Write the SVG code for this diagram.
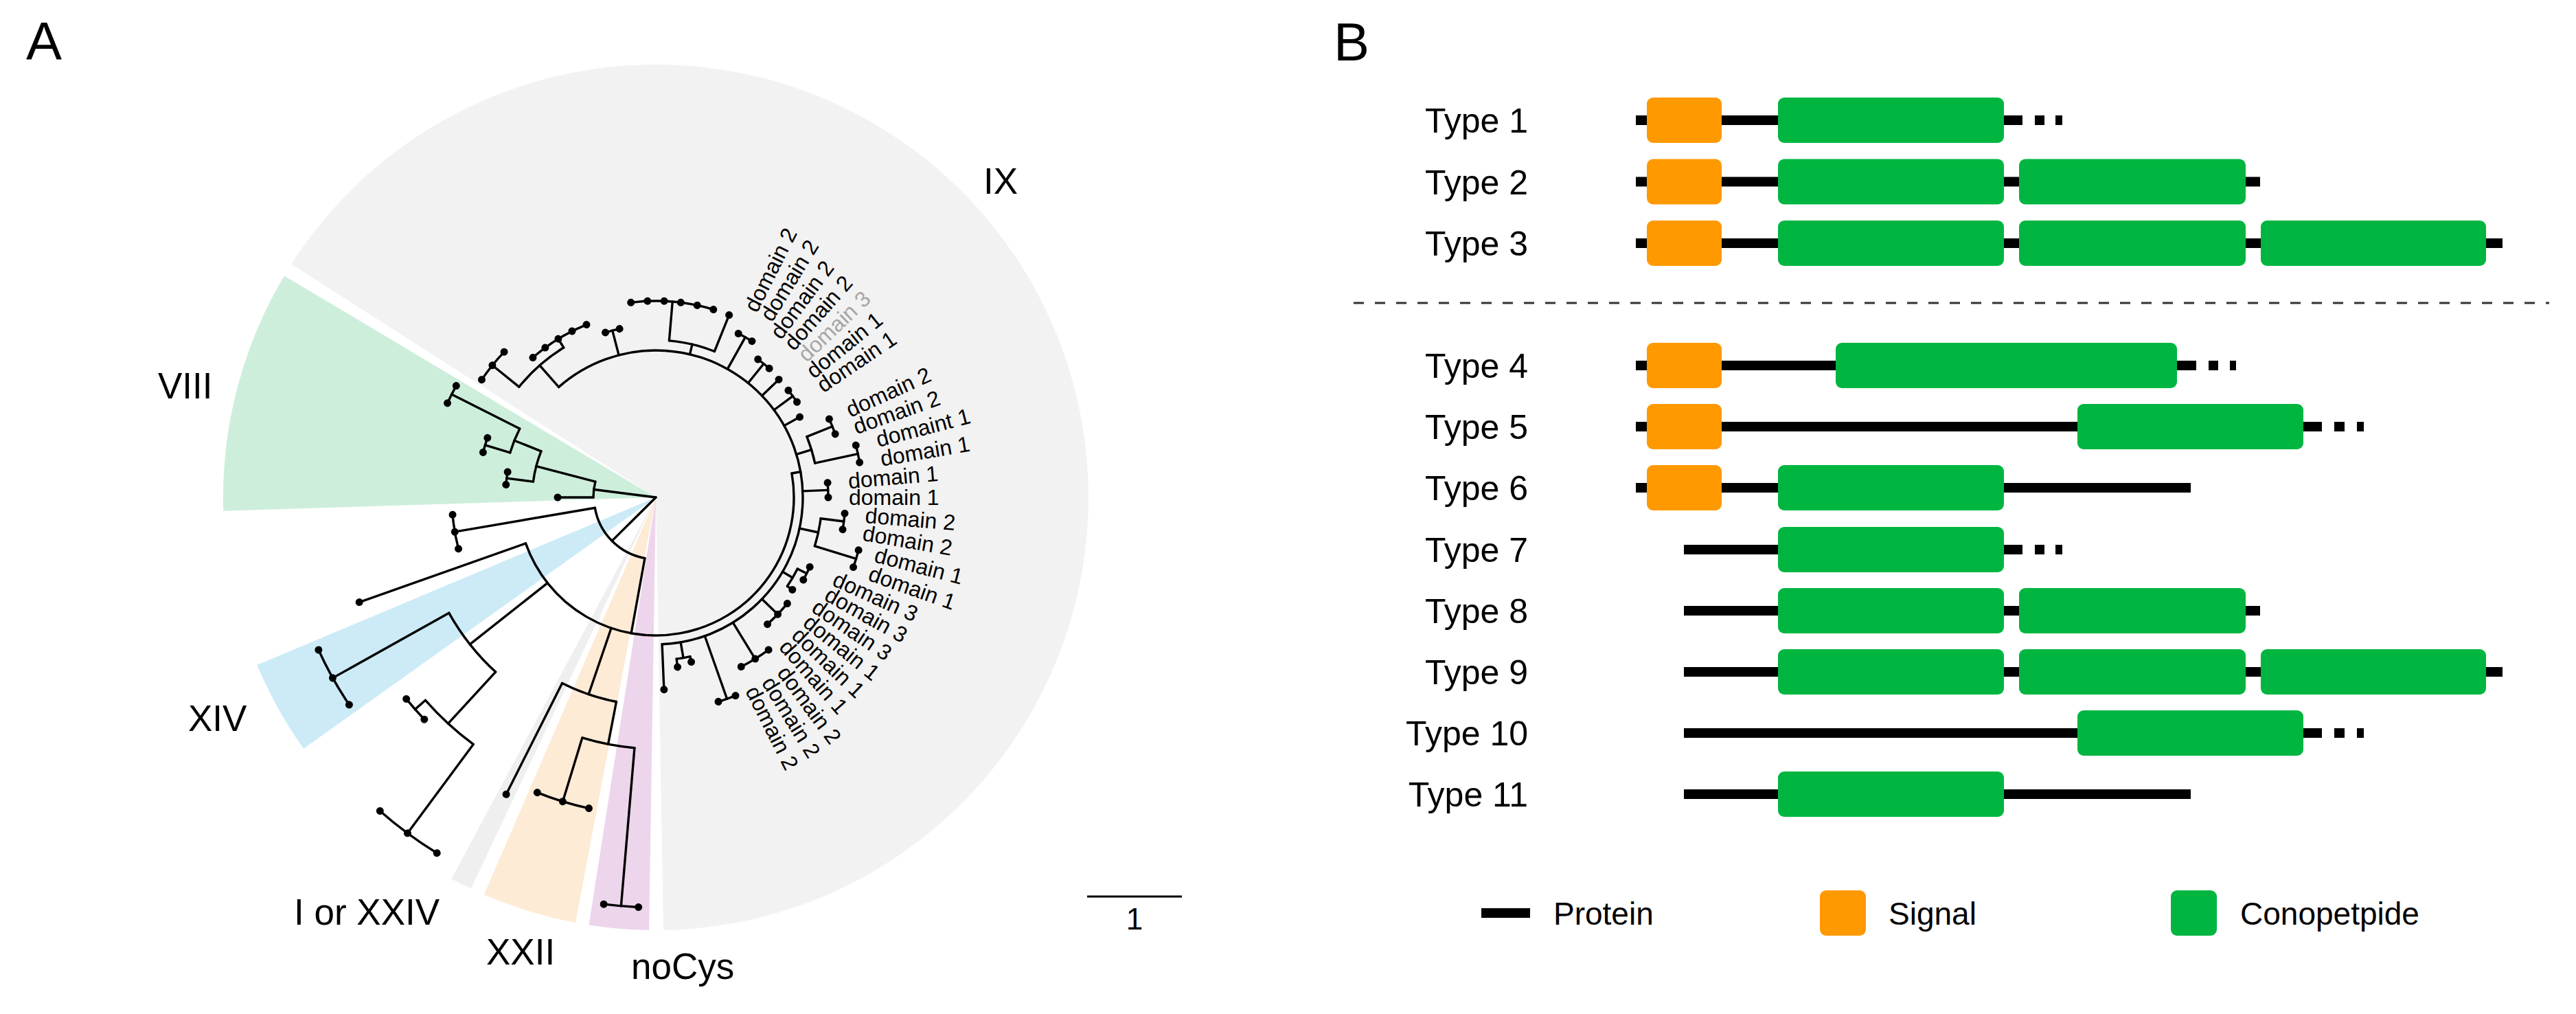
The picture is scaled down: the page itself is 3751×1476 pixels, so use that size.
<svg xmlns="http://www.w3.org/2000/svg" width="3751" height="1476" viewBox="0 0 3751 1476">
<style>
text{font-family:"Liberation Sans",Arial,Helvetica,sans-serif;fill:#000}
.pl{font-size:78px}
.gl{font-size:53px}
.tl{font-size:32px}
.ty{font-size:50px;text-anchor:end}
.lg{font-size:46px}
.br{stroke:#000;stroke-width:3.4;fill:none;stroke-linecap:round}
.ar{stroke:#000;stroke-width:3.4;fill:none;stroke-linecap:round}
.dt{fill:#000}
.pr{fill:#000}
.sg{fill:#ff9900}
.cp{fill:#00b640}
</style>
<rect width="3751" height="1476" fill="#fff"/>

<g id="panelA">
<text class="pl" x="38" y="87">A</text>
<g id="sectors">
<path d="M955,724 L424.2,384.6 A630,630 0 1 1 966,1353.9 Z" fill="#f2f2f2"/>
<path d="M955,724 L325.3,743.8 A630,630 0 0 1 413.9,401.4 Z" fill="#cdeedb"/>
<path d="M955,724 L442.1,1089.8 A630,630 0 0 1 374.2,968.1 Z" fill="#ccebf7"/>
<path d="M955,724 L685.8,1293.6 A630,630 0 0 1 657.3,1279.2 Z" fill="#efefef"/>
<path d="M955,724 L838,1343 A630,630 0 0 1 704.8,1302.2 Z" fill="#fdebd6"/>
<path d="M955,724 L945.1,1353.9 A630,630 0 0 1 857.5,1346.4 Z" fill="#edd5ec"/>
</g>
<g id="group-labels">
<text class="gl" x="1432" y="282">IX</text>
<text class="gl" x="230" y="580">VIII</text>
<text class="gl" x="274" y="1064">XIV</text>
<text class="gl" x="428" y="1346">I or XXIV</text>
<text class="gl" x="708" y="1404">XXII</text>
<text class="gl" x="919" y="1425">noCys</text>
</g>
<g id="tree" transform="translate(955,724)">
<g id="branches">
<line class="br" x1="0" x2="91" transform="rotate(187.297)"/>
<circle class="ar" r="91" pathLength="360" stroke-dasharray="14.595 720" transform="rotate(180)"/>
<line class="br" x1="91" x2="143" transform="rotate(180)"/>
<line class="br" x1="91" x2="180" transform="rotate(194.595)"/>
<circle class="ar" r="180" pathLength="360" stroke-dasharray="14.595 720" transform="rotate(187.297)"/>
<line class="br" x1="180" x2="219" transform="rotate(187.297)"/>
<circle class="ar" r="219" pathLength="360" stroke-dasharray="4.865 720" transform="rotate(184.865)"/>
<line class="br" x1="180" x2="222" transform="rotate(201.892)"/>
<circle class="ar" r="222" pathLength="360" stroke-dasharray="9.73 720" transform="rotate(197.027)"/>
<line class="br" x1="222" x2="260" transform="rotate(197.027)"/>
<circle class="ar" r="260" pathLength="360" stroke-dasharray="4.864 720" transform="rotate(194.595)"/>
<line class="br" x1="222" x2="333" transform="rotate(206.757)"/>
<circle class="ar" r="333" pathLength="360" stroke-dasharray="4.865 720" transform="rotate(204.324)"/>

<line class="br" x1="0" x2="90" transform="rotate(135.27)"/>
<circle class="ar" r="90" pathLength="360" stroke-dasharray="70 720" transform="rotate(100.27)"/>
<line class="br" x1="90" x2="297" transform="rotate(170.27)"/>
<circle class="ar" r="297" pathLength="360" stroke-dasharray="9.73 720" transform="rotate(165.405)"/>
<line class="br" x1="90" x2="201" transform="rotate(100.27)"/>
<circle class="ar" r="201" pathLength="360" stroke-dasharray="170.561 720" transform="rotate(349.98)"/>
<line class="br" x1="201" x2="458" transform="rotate(160.541)"/>
<line class="br" x1="201" x2="345" transform="rotate(141.69)"/>
<circle class="ar" r="345" pathLength="360" stroke-dasharray="18.243 720" transform="rotate(132.568)"/>
<line class="br" x1="345" x2="539" transform="rotate(150.811)"/>
<circle class="ar" r="539" pathLength="360" stroke-dasharray="9.73 720" transform="rotate(145.946)"/>
<line class="br" x1="345" x2="447" transform="rotate(132.568)"/>
<circle class="ar" r="447" pathLength="360" stroke-dasharray="12.163 720" transform="rotate(126.486)"/>
<line class="br" x1="447" x2="467" transform="rotate(138.649)"/>
<circle class="ar" r="467" pathLength="360" stroke-dasharray="4.865 720" transform="rotate(136.216)"/>
<line class="br" x1="447" x2="608" transform="rotate(126.486)"/>
<circle class="ar" r="608" pathLength="360" stroke-dasharray="9.729 720" transform="rotate(121.622)"/>
<line class="br" x1="201" x2="303" transform="rotate(108.851)"/>
<circle class="ar" r="303" pathLength="360" stroke-dasharray="15.811 720" transform="rotate(100.946)"/>
<line class="br" x1="303" x2="484" transform="rotate(116.757)"/>
<line class="br" x1="303" x2="366" transform="rotate(100.946)"/>
<circle class="ar" r="366" pathLength="360" stroke-dasharray="12.162 720" transform="rotate(94.865)"/>
<line class="br" x1="366" x2="597" transform="rotate(94.865)"/>
<circle class="ar" r="597" pathLength="360" stroke-dasharray="4.865 720" transform="rotate(92.432)"/>
<line class="br" x1="366" x2="463" transform="rotate(107.027)"/>
<circle class="ar" r="463" pathLength="360" stroke-dasharray="9.73 720" transform="rotate(102.162)"/>

<line class="br" x1="201" x2="214" transform="rotate(349.984)"/>
<circle class="ar" r="214" pathLength="360" stroke-dasharray="218.919 720" transform="rotate(228.649)"/>
<line class="br" x1="214" x2="256" transform="rotate(228.649)"/>
<circle class="ar" r="256" pathLength="360" stroke-dasharray="19.459 720" transform="rotate(218.919)"/>
<line class="br" x1="256" x2="306" transform="rotate(218.919)"/>
<circle class="ar" r="306" pathLength="360" stroke-dasharray="9.73 720" transform="rotate(214.054)"/>
<line class="br" x1="256" x2="271" transform="rotate(238.378)"/>
<circle class="ar" r="271" pathLength="360" stroke-dasharray="19.459 720" transform="rotate(228.649)"/>
<line class="br" x1="214" x2="251" transform="rotate(255.405)"/>
<circle class="ar" r="251" pathLength="360" stroke-dasharray="4.865 720" transform="rotate(252.973)"/>
<line class="br" x1="214" x2="229" transform="rotate(283.378)"/>
<circle class="ar" r="229" pathLength="360" stroke-dasharray="17.027 720" transform="rotate(274.865)"/>
<line class="br" x1="229" x2="286" transform="rotate(274.865)"/>
<circle class="ar" r="286" pathLength="360" stroke-dasharray="24.324 720" transform="rotate(262.703)"/>
<line class="br" x1="229" x2="286" transform="rotate(291.892)"/>
<line class="br" x1="214" x2="267" transform="rotate(299.189)"/>
<circle class="ar" r="267" pathLength="360" stroke-dasharray="4.865 720" transform="rotate(296.757)"/>
<line class="br" x1="214" x2="250" transform="rotate(308.919)"/>
<circle class="ar" r="250" pathLength="360" stroke-dasharray="4.865 720" transform="rotate(306.486)"/>
<line class="br" x1="214" x2="248" transform="rotate(316.216)"/>
<line class="br" x1="214" x2="248" transform="rotate(323.514)"/>
<circle class="ar" r="248" pathLength="360" stroke-dasharray="4.865 720" transform="rotate(321.081)"/>
<line class="br" x1="214" x2="240" transform="rotate(330.811)"/>
<line class="br" x1="214" x2="237" transform="rotate(342.973)"/>
<circle class="ar" r="237" pathLength="360" stroke-dasharray="9.73 720" transform="rotate(338.108)"/>
<line class="br" x1="237" x2="277" transform="rotate(338.108)"/>
<circle class="ar" r="277" pathLength="360" stroke-dasharray="4.865 720" transform="rotate(335.676)"/>
<line class="br" x1="237" x2="301" transform="rotate(347.838)"/>
<circle class="ar" r="301" pathLength="360" stroke-dasharray="4.865 720" transform="rotate(345.405)"/>
<line class="br" x1="214" x2="251" transform="rotate(357.568)"/>
<circle class="ar" r="251" pathLength="360" stroke-dasharray="4.865 720" transform="rotate(355.135)"/>
<line class="br" x1="214" x2="242" transform="rotate(372.162)"/>
<circle class="ar" r="242" pathLength="360" stroke-dasharray="9.73 720" transform="rotate(367.297)"/>
<line class="br" x1="242" x2="276" transform="rotate(367.297)"/>
<circle class="ar" r="276" pathLength="360" stroke-dasharray="4.865 720" transform="rotate(364.865)"/>
<line class="br" x1="242" x2="305" transform="rotate(377.027)"/>
<circle class="ar" r="305" pathLength="360" stroke-dasharray="4.864 720" transform="rotate(374.595)"/>
<line class="br" x1="214" x2="231" transform="rotate(390.405)"/>
<circle class="ar" r="231" pathLength="360" stroke-dasharray="7.297 720" transform="rotate(386.757)"/>
<line class="br" x1="231" x2="246" transform="rotate(386.757)"/>
<circle class="ar" r="246" pathLength="360" stroke-dasharray="4.865 720" transform="rotate(384.324)"/>
<line class="br" x1="231" x2="240" transform="rotate(394.054)"/>
<line class="br" x1="214" x2="246" transform="rotate(403.784)"/>
<circle class="ar" r="246" pathLength="360" stroke-dasharray="9.73 720" transform="rotate(398.919)"/>
<line class="br" x1="214" x2="276" transform="rotate(418.378)"/>
<circle class="ar" r="276" pathLength="360" stroke-dasharray="9.729 720" transform="rotate(413.514)"/>
<line class="br" x1="214" x2="311" transform="rotate(430.541)"/>
<circle class="ar" r="311" pathLength="360" stroke-dasharray="4.865 720" transform="rotate(428.108)"/>
<line class="br" x1="214" x2="237" transform="rotate(440.27)"/>
<circle class="ar" r="237" pathLength="360" stroke-dasharray="4.865 720" transform="rotate(437.838)"/>
<line class="br" x1="237" x2="245" transform="rotate(437.838)"/>
<line class="br" x1="237" x2="249" transform="rotate(442.703)"/>
<line class="br" x1="214" x2="280" transform="rotate(447.568)"/>
</g>
<g id="tips">
<circle class="dt" cx="143" r="5.5" transform="rotate(180)"/>
<circle class="dt" cx="219" r="5.5" transform="rotate(184.865)"/>
<circle class="dt" cx="219" r="5.5" transform="rotate(189.730)"/>
<circle class="dt" cx="260" r="5.5" transform="rotate(194.595)"/>
<circle class="dt" cx="260" r="5.5" transform="rotate(199.459)"/>
<circle class="dt" cx="333" r="5.5" transform="rotate(204.324)"/>
<circle class="dt" cx="333" r="5.5" transform="rotate(209.189)"/>
<circle class="dt" cx="306" r="5.5" transform="rotate(214.054)"/>
<circle class="dt" cx="306" r="5.5" transform="rotate(218.919)"/>
<circle class="dt" cx="306" r="5.5" transform="rotate(223.784)"/>
<circle class="dt" cx="271" r="5.5" transform="rotate(228.649)"/>
<circle class="dt" cx="271" r="5.5" transform="rotate(233.514)"/>
<circle class="dt" cx="271" r="5.5" transform="rotate(238.378)"/>
<circle class="dt" cx="271" r="5.5" transform="rotate(243.243)"/>
<circle class="dt" cx="271" r="5.5" transform="rotate(248.108)"/>
<circle class="dt" cx="251" r="5.5" transform="rotate(252.973)"/>
<circle class="dt" cx="251" r="5.5" transform="rotate(257.838)"/>
<circle class="dt" cx="286" r="5.5" transform="rotate(262.703)"/>
<circle class="dt" cx="286" r="5.5" transform="rotate(267.568)"/>
<circle class="dt" cx="286" r="5.5" transform="rotate(272.432)"/>
<circle class="dt" cx="286" r="5.5" transform="rotate(277.297)"/>
<circle class="dt" cx="286" r="5.5" transform="rotate(282.162)"/>
<circle class="dt" cx="286" r="5.5" transform="rotate(287.027)"/>
<circle class="dt" cx="286" r="5.5" transform="rotate(291.892)"/>
<circle class="dt" cx="267" r="5.5" transform="rotate(296.757)"/>
<circle class="dt" cx="267" r="5.5" transform="rotate(301.622)"/>
<circle class="dt" cx="250" r="5.5" transform="rotate(306.486)"/>
<circle class="dt" cx="250" r="5.5" transform="rotate(311.351)"/>
<circle class="dt" cx="248" r="5.5" transform="rotate(316.216)"/>
<circle class="dt" cx="248" r="5.5" transform="rotate(321.081)"/>
<circle class="dt" cx="248" r="5.5" transform="rotate(325.946)"/>
<circle class="dt" cx="240" r="5.5" transform="rotate(330.811)"/>
<circle class="dt" cx="277" r="5.5" transform="rotate(335.676)"/>
<circle class="dt" cx="277" r="5.5" transform="rotate(340.541)"/>
<circle class="dt" cx="301" r="5.5" transform="rotate(345.405)"/>
<circle class="dt" cx="301" r="5.5" transform="rotate(350.270)"/>
<circle class="dt" cx="251" r="5.5" transform="rotate(355.135)"/>
<circle class="dt" cx="251" r="5.5" transform="rotate(360)"/>
<circle class="dt" cx="276" r="5.5" transform="rotate(364.865)"/>
<circle class="dt" cx="276" r="5.5" transform="rotate(369.730)"/>
<circle class="dt" cx="305" r="5.5" transform="rotate(374.595)"/>
<circle class="dt" cx="305" r="5.5" transform="rotate(379.459)"/>
<circle class="dt" cx="246" r="5.5" transform="rotate(384.324)"/>
<circle class="dt" cx="246" r="5.5" transform="rotate(389.189)"/>
<circle class="dt" cx="240" r="5.5" transform="rotate(394.054)"/>
<circle class="dt" cx="246" r="5.5" transform="rotate(398.919)"/>
<circle class="dt" cx="246" r="5.5" transform="rotate(403.784)"/>
<circle class="dt" cx="246" r="5.5" transform="rotate(408.649)"/>
<circle class="dt" cx="276" r="5.5" transform="rotate(413.514)"/>
<circle class="dt" cx="276" r="5.5" transform="rotate(418.378)"/>
<circle class="dt" cx="276" r="5.5" transform="rotate(423.243)"/>
<circle class="dt" cx="311" r="5.5" transform="rotate(428.108)"/>
<circle class="dt" cx="311" r="5.5" transform="rotate(432.973)"/>
<circle class="dt" cx="245" r="5.5" transform="rotate(437.838)"/>
<circle class="dt" cx="249" r="5.5" transform="rotate(442.703)"/>
<circle class="dt" cx="280" r="5.5" transform="rotate(447.568)"/>
<circle class="dt" cx="597" r="5.5" transform="rotate(92.432)"/>
<circle class="dt" cx="597" r="5.5" transform="rotate(97.297)"/>
<circle class="dt" cx="463" r="5.5" transform="rotate(102.162)"/>
<circle class="dt" cx="463" r="5.5" transform="rotate(107.027)"/>
<circle class="dt" cx="463" r="5.5" transform="rotate(111.892)"/>
<circle class="dt" cx="484" r="5.5" transform="rotate(116.757)"/>
<circle class="dt" cx="608" r="5.5" transform="rotate(121.622)"/>
<circle class="dt" cx="608" r="5.5" transform="rotate(126.486)"/>
<circle class="dt" cx="608" r="5.5" transform="rotate(131.351)"/>
<circle class="dt" cx="467" r="5.5" transform="rotate(136.216)"/>
<circle class="dt" cx="467" r="5.5" transform="rotate(141.081)"/>
<circle class="dt" cx="539" r="5.5" transform="rotate(145.946)"/>
<circle class="dt" cx="539" r="5.5" transform="rotate(150.811)"/>
<circle class="dt" cx="539" r="5.5" transform="rotate(155.676)"/>
<circle class="dt" cx="458" r="5.5" transform="rotate(160.541)"/>
<circle class="dt" cx="297" r="5.5" transform="rotate(165.405)"/>
<circle class="dt" cx="297" r="5.5" transform="rotate(170.270)"/>
<circle class="dt" cx="297" r="5.5" transform="rotate(175.135)"/>
</g>
<g id="tip-labels" dominant-baseline="central">
<text class="tl" x="305" transform="rotate(296.757)">domain 2</text>
<text class="tl" x="305" transform="rotate(301.622)">domain 2</text>
<text class="tl" x="292" transform="rotate(306.486)">domain 2</text>
<text class="tl" x="292" transform="rotate(311.351)">domain 2</text>
<text class="tl" x="294" transform="rotate(316.216)" style="fill:#a6a6a6">domain 3</text>
<text class="tl" x="287" transform="rotate(321.081)">domain 1</text>
<text class="tl" x="287" transform="rotate(325.946)">domain 1</text>
<text class="tl" x="306" transform="rotate(335.676)">domain 2</text>
<text class="tl" x="306" transform="rotate(340.541)">domain 2</text>
<text class="tl" x="332" transform="rotate(345.405)">domaint 1</text>
<text class="tl" x="332" transform="rotate(350.270)">domain 1</text>
<text class="tl" x="281" transform="rotate(355.135)">domain 1</text>
<text class="tl" x="281" transform="rotate(360)">domain 1</text>
<text class="tl" x="306" transform="rotate(364.865)">domain 2</text>
<text class="tl" x="306" transform="rotate(369.730)">domain 2</text>
<text class="tl" x="330" transform="rotate(374.595)">domain 1</text>
<text class="tl" x="330" transform="rotate(379.459)">domain 1</text>
<text class="tl" x="285" transform="rotate(384.324)">domain 3</text>
<text class="tl" x="285" transform="rotate(389.189)">domain 3</text>
<text class="tl" x="279" transform="rotate(394.054)">domain 3</text>
<text class="tl" x="282" transform="rotate(398.919)">domain 1</text>
<text class="tl" x="282" transform="rotate(403.784)">domain 1</text>
<text class="tl" x="282" transform="rotate(408.649)">domain 1</text>
<text class="tl" x="310" transform="rotate(413.514)">domain 2</text>
<text class="tl" x="310" transform="rotate(418.378)">domain 2</text>
<text class="tl" x="310" transform="rotate(423.243)">domain 2</text>
</g>
</g>
<g id="scale-bar">
<line x1="1583" y1="1305" x2="1721" y2="1305" stroke="#000" stroke-width="3"/>
<text x="1652" y="1353" font-size="44" text-anchor="middle">1</text>
</g>
</g>

<g id="panelB">
<text class="pl" x="1942" y="88">B</text>
<line id="separator" x1="1971" y1="441" x2="3712" y2="441" stroke="#333" stroke-width="3" stroke-dasharray="15 16"/>
<g id="type1">
<text class="ty" x="2225" y="193">Type 1</text>
<rect class="pr" x="2382" y="168" width="563" height="14"/>
<rect class="pr" x="2963" y="168" width="14" height="14"/>
<rect class="pr" x="2993" y="168" width="10" height="14"/>
<rect class="sg" x="2398" y="142" width="109" height="66" rx="9"/>
<rect class="cp" x="2589" y="142" width="329" height="66" rx="9"/>
</g>
<g id="type2">
<text class="ty" x="2225" y="282.5">Type 2</text>
<rect class="pr" x="2382" y="257.5" width="909" height="14"/>
<rect class="sg" x="2398" y="231.5" width="109" height="66" rx="9"/>
<rect class="cp" x="2589" y="231.5" width="329" height="66" rx="9"/>
<rect class="cp" x="2940" y="231.5" width="330" height="66" rx="9"/>
</g>
<g id="type3">
<text class="ty" x="2225" y="372">Type 3</text>
<rect class="pr" x="2382" y="347" width="1262" height="14"/>
<rect class="sg" x="2398" y="321" width="109" height="66" rx="9"/>
<rect class="cp" x="2589" y="321" width="329" height="66" rx="9"/>
<rect class="cp" x="2940" y="321" width="330" height="66" rx="9"/>
<rect class="cp" x="3292" y="321" width="328" height="66" rx="9"/>
</g>
<g id="type4">
<text class="ty" x="2225" y="550">Type 4</text>
<rect class="pr" x="2382" y="525" width="816" height="14"/>
<rect class="pr" x="3216" y="525" width="14" height="14"/>
<rect class="pr" x="3247" y="525" width="9" height="14"/>
<rect class="sg" x="2398" y="499" width="109" height="66" rx="9"/>
<rect class="cp" x="2673" y="499" width="497" height="66" rx="9"/>
</g>
<g id="type5">
<text class="ty" x="2225" y="639">Type 5</text>
<rect class="pr" x="2382" y="614" width="999" height="14"/>
<rect class="pr" x="3399" y="614" width="15" height="14"/>
<rect class="pr" x="3432" y="614" width="10" height="14"/>
<rect class="sg" x="2398" y="588" width="109" height="66" rx="9"/>
<rect class="cp" x="3025" y="588" width="329" height="66" rx="9"/>
</g>
<g id="type6">
<text class="ty" x="2225" y="728">Type 6</text>
<rect class="pr" x="2382" y="703" width="808" height="14"/>
<rect class="sg" x="2398" y="677" width="109" height="66" rx="9"/>
<rect class="cp" x="2589" y="677" width="329" height="66" rx="9"/>
</g>
<g id="type7">
<text class="ty" x="2225" y="818">Type 7</text>
<rect class="pr" x="2452" y="793" width="493" height="14"/>
<rect class="pr" x="2963" y="793" width="14" height="14"/>
<rect class="pr" x="2993" y="793" width="10" height="14"/>
<rect class="cp" x="2589" y="767" width="329" height="66" rx="9"/>
</g>
<g id="type8">
<text class="ty" x="2225" y="907">Type 8</text>
<rect class="pr" x="2452" y="882" width="839" height="14"/>
<rect class="cp" x="2589" y="856" width="329" height="66" rx="9"/>
<rect class="cp" x="2940" y="856" width="330" height="66" rx="9"/>
</g>
<g id="type9">
<text class="ty" x="2225" y="996">Type 9</text>
<rect class="pr" x="2452" y="971" width="1192" height="14"/>
<rect class="cp" x="2589" y="945" width="329" height="66" rx="9"/>
<rect class="cp" x="2940" y="945" width="330" height="66" rx="9"/>
<rect class="cp" x="3292" y="945" width="328" height="66" rx="9"/>
</g>
<g id="type10">
<text class="ty" x="2225" y="1085">Type 10</text>
<rect class="pr" x="2452" y="1060" width="929" height="14"/>
<rect class="pr" x="3399" y="1060" width="15" height="14"/>
<rect class="pr" x="3432" y="1060" width="10" height="14"/>
<rect class="cp" x="3025" y="1034" width="329" height="66" rx="9"/>
</g>
<g id="type11">
<text class="ty" x="2225" y="1174">Type 11</text>
<rect class="pr" x="2452" y="1149" width="738" height="14"/>
<rect class="cp" x="2589" y="1123" width="329" height="66" rx="9"/>
</g>
<g id="legend">
<rect class="pr" x="2157" y="1322" width="71" height="14"/>
<text class="lg" x="2262" y="1346">Protein</text>
<rect class="sg" x="2650" y="1296" width="67" height="66" rx="9"/>
<text class="lg" x="2750" y="1346">Signal</text>
<rect class="cp" x="3161" y="1296" width="67" height="66" rx="9"/>
<text class="lg" x="3262" y="1346">Conopetpide</text>
</g>
</g>
</svg>
